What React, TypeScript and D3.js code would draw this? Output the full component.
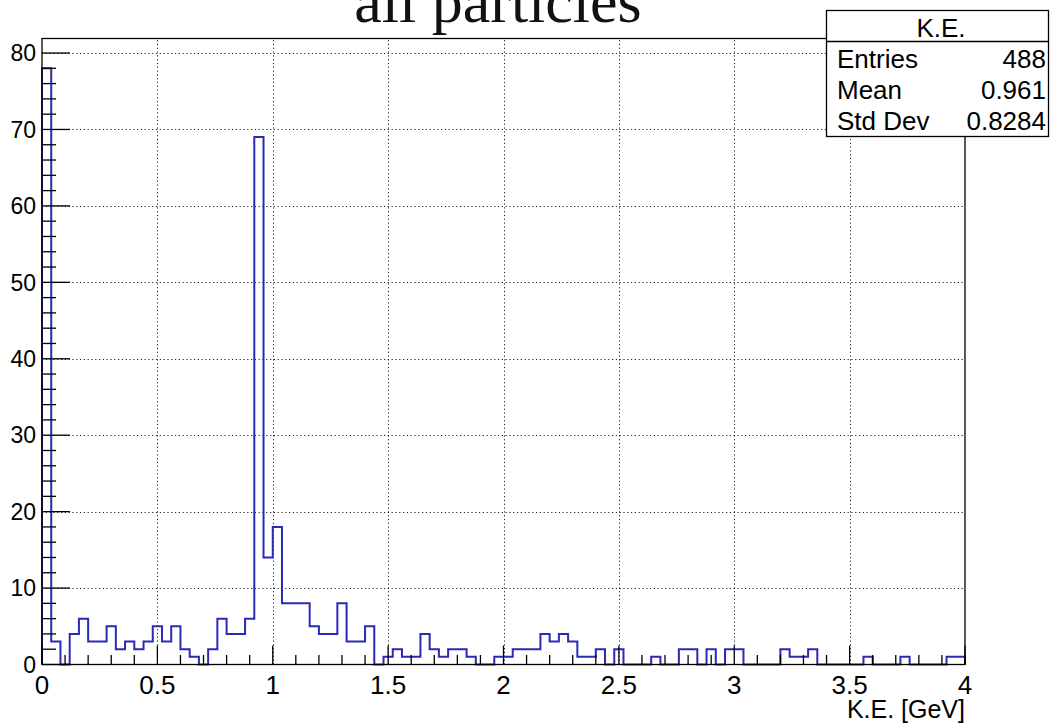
import React from "react";
import * as d3 from "d3";

// Histogram of kinetic energy, 100 bins over 0–4 GeV
const binLow = 0;
const binHigh = 4;
const counts: number[] = [
  78, 3, 0, 4, 6, 3, 3, 5, 2, 3,
  2, 3, 5, 3, 5, 2, 1, 0, 2, 6,
  4, 4, 6, 69, 14, 18, 8, 8, 8, 5,
  4, 4, 8, 3, 3, 5, 0, 1, 2, 1,
  1, 4, 2, 1, 2, 2, 1, 0, 0, 1,
  1, 2, 2, 2, 4, 3, 4, 3, 1, 1,
  2, 0, 2, 0, 0, 0, 1, 0, 0, 2,
  2, 0, 2, 0, 2, 2, 0, 0, 0, 0,
  2, 1, 1, 2, 0, 0, 0, 0, 0, 1,
  0, 0, 0, 1, 0, 0, 0, 0, 1, 1,
];

const xMajorTicks = [0, 0.5, 1, 1.5, 2, 2.5, 3, 3.5, 4];
const xTickLabels = ["0", "0.5", "1", "1.5", "2", "2.5", "3", "3.5", "4"];
const yMajorTicks = [0, 10, 20, 30, 40, 50, 60, 70, 80];

const titleText = "all particles";
const xAxisTitle = "K.E. [GeV]";
const statsTitle = "K.E.";
const statsLabels = ["Entries", "Mean", "Std Dev"];
const statsValues = ["488", "0.961", "0.8284"];

const W = 1050;
const H = 723;
const frame = { left: 42, right: 965, top: 38.5, bottom: 664.5 };
const sans = "'Liberation Sans', Arial, Helvetica, sans-serif";
const serif = "'Liberation Serif', 'Times New Roman', serif";
const histColor = "#2a2ab4";

export default function App() {
  const maxCount = d3.max(counts) ?? 1;
  const x = d3.scaleLinear().domain([binLow, binHigh]).range([frame.left, frame.right]);
  const y = d3.scaleLinear().domain([0, maxCount * 1.05]).range([frame.bottom, frame.top]);
  const binWidth = (binHigh - binLow) / counts.length;

  // step outline of the histogram
  const pts: [number, number][] = [[binLow, 0]];
  counts.forEach((c, i) => {
    const lo = binLow + i * binWidth;
    pts.push([lo, c], [lo + binWidth, c]);
  });
  pts.push([binHigh, 0]);
  const histPath = d3
    .line<[number, number]>()
    .x((d) => x(d[0]))
    .y((d) => y(d[1]))(pts) ?? "";

  const xMinor = d3.range(0, 41).map((i) => i / 10).filter((v) => !xMajorTicks.some((m) => Math.abs(m - v) < 1e-9));
  const yMinor = d3.range(0, 41).map((i) => i * 2).filter((v) => v % 10 !== 0 && v <= maxCount * 1.05);

  const majorX = 19;
  const minorX = 9.5;
  const majorY = 28;
  const minorY = 14;

  const statsBox = { x: 826.5, y: 10.5, w: 222, h: 126, head: 31 };

  return (
    <svg width={W} height={H} style={{ position: "absolute", left: 0, top: 0, background: "#fff" }}>
      <rect x={0} y={0} width={W} height={H} fill="#fff" />

      {/* grid */}
      <g stroke="#222" strokeWidth={1} strokeDasharray="1.2 2.6">
        {yMajorTicks.filter((v) => v > 0).map((v) => (
          <line key={"gy" + v} x1={frame.left} x2={frame.right} y1={Math.round(y(v)) + 0.5} y2={Math.round(y(v)) + 0.5} />
        ))}
        {xMajorTicks.filter((v) => v > 0 && v < 4).map((v) => (
          <line key={"gx" + v} x1={Math.round(x(v)) + 0.5} x2={Math.round(x(v)) + 0.5} y1={frame.bottom} y2={frame.top} />
        ))}
      </g>

      {/* histogram */}
      <path d={histPath} fill="none" stroke={histColor} strokeWidth={2} />

      {/* frame */}
      <rect x={frame.left} y={frame.top} width={frame.right - frame.left} height={frame.bottom - frame.top} fill="none" stroke="#000" strokeWidth={1.3} />

      {/* ticks */}
      <g stroke="#000" strokeWidth={1.3}>
        {xMajorTicks.map((v) => (
          <line key={"xt" + v} x1={x(v)} x2={x(v)} y1={frame.bottom} y2={frame.bottom - majorX} />
        ))}
        {xMinor.map((v) => (
          <line key={"xm" + v} x1={x(v)} x2={x(v)} y1={frame.bottom} y2={frame.bottom - minorX} />
        ))}
        {yMajorTicks.map((v) => (
          <line key={"yt" + v} x1={frame.left} x2={frame.left + majorY} y1={y(v)} y2={y(v)} />
        ))}
        {yMinor.map((v) => (
          <line key={"ym" + v} x1={frame.left} x2={frame.left + minorY} y1={y(v)} y2={y(v)} />
        ))}
      </g>

      {/* tick labels */}
      <g fontFamily={sans} fill="#000">
        {xMajorTicks.map((v, i) => (
          <text key={"xl" + v} x={x(v)} y={694} fontSize={26} textAnchor="middle">
            {xTickLabels[i]}
          </text>
        ))}
        {yMajorTicks.map((v) => (
          <text key={"yl" + v} x={36} y={y(v) + 8.3} fontSize={23} textAnchor="end">
            {v}
          </text>
        ))}
        <text x={frame.right} y={718} fontSize={25} textAnchor="end">
          {xAxisTitle}
        </text>
      </g>

      {/* title */}
      <text x={498} y={22} fontFamily={serif} fontSize={62} textAnchor="middle" fill="#111">
        {titleText}
      </text>

      {/* statistics box */}
      <g fontFamily={sans} fill="#000">
        <rect x={statsBox.x} y={statsBox.y} width={statsBox.w} height={statsBox.h} fill="#fff" stroke="#000" strokeWidth={1.3} />
        <line x1={statsBox.x} x2={statsBox.x + statsBox.w} y1={statsBox.y + statsBox.head} y2={statsBox.y + statsBox.head} stroke="#000" strokeWidth={1.3} />
        <text x={941} y={36.5} fontSize={26} textAnchor="middle">
          {statsTitle}
        </text>
        {statsLabels.map((label, i) => (
          <g key={label}>
            <text x={837} y={68 + i * 31} fontSize={26}>
              {label}
            </text>
            <text x={1046} y={68 + i * 31} fontSize={26} textAnchor="end">
              {statsValues[i]}
            </text>
          </g>
        ))}
      </g>
    </svg>
  );
}
